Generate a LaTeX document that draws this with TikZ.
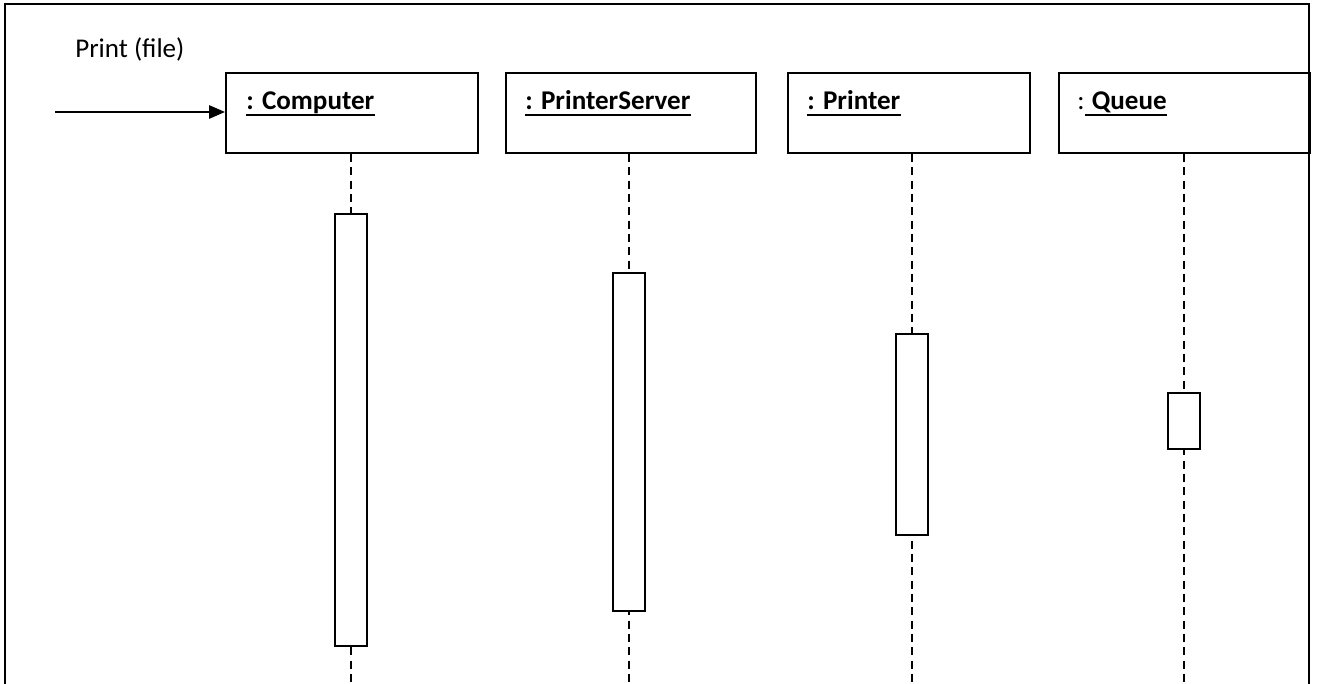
\documentclass[tikz,border=0pt]{standalone}
\usepackage{fontspec}
\setmainfont{Carlito}
\usetikzlibrary{arrows.meta}
\newcommand{\ulbox}[1]{\tikz[baseline=(t.base)]{\node[inner sep=0pt] (t) {#1};\draw[line width=1.4pt] ([yshift=-3.6pt]t.base west) -- ([yshift=-3.6pt]t.base east);}}
\begin{document}
\begin{tikzpicture}[x=0.75pt,y=-0.75pt,
  objbox/.style={draw=black,line width=1.4pt,minimum height=60pt,anchor=north west,inner sep=0pt},
  objlabel/.style={anchor=base west,font=\fontsize{20.3}{24}\selectfont,inner sep=0pt},
  actbox/.style={draw=black,fill=white,line width=1.4pt,minimum width=24.5pt,anchor=north,inner sep=0pt},
  lifeline/.style={line width=1pt,dash pattern=on 6pt off 4pt},
  msg/.style={line width=1.4pt,-{Triangle[length=12pt,width=10pt]}}]
\useasboundingbox (0,0) rectangle (1318,684);
% frame (open at the bottom)
\draw[line width=1.4pt] (5,684) -- (5,4) -- (1309,4) -- (1309,684);
% object boxes
\node[objbox,minimum width=189pt] (comp) at (225,72) {};
\node[objbox,minimum width=187.5pt] (pserv) at (505,72) {};
\node[objbox,minimum width=181.5pt] (prn) at (787,72) {};
\node[objbox,minimum width=188pt] (que) at (1058,72) {};
\node[objlabel] (compl) at (245,110) {\ulbox{\textbf{: Computer}}};
\node[objlabel] (pservl) at (524,110) {\ulbox{\textbf{: PrinterServer}}};
\node[objlabel] (prnl) at (806,110) {\ulbox{\textbf{: Printer}}};
\node[objlabel] (quel) at (1077,110) {:\ulbox{\textbf{\ Queue}}};
% lifeline ends
\coordinate (compe) at (351,684);
\coordinate (pserve) at (629,684);
\coordinate (prne) at (912,684);
\coordinate (quee) at (1184,684);
\draw[lifeline] (comp.south -| compe) -- (compe);
\draw[lifeline] (pserv.south -| pserve) -- (pserve);
\draw[lifeline] (prn.south -| prne) -- (prne);
\draw[lifeline] (que.south -| quee) -- (quee);
% activation boxes
\node[actbox,minimum height=324pt] (compa) at (351,213) {};
\node[actbox,minimum height=253.5pt] (pserva) at (629,272) {};
\node[actbox,minimum height=150.75pt] (prna) at (912,333) {};
\node[actbox,minimum height=42pt] (quea) at (1184,392) {};
% incoming message
\coordinate (start) at (55,112);
\draw[msg] (start) -- (comp.west |- start);
\node[anchor=base west,font=\fontsize{20.3}{24}\selectfont,inner sep=0pt] (plabel) at (75,58) {Print (file)};
\end{tikzpicture}
\end{document}
